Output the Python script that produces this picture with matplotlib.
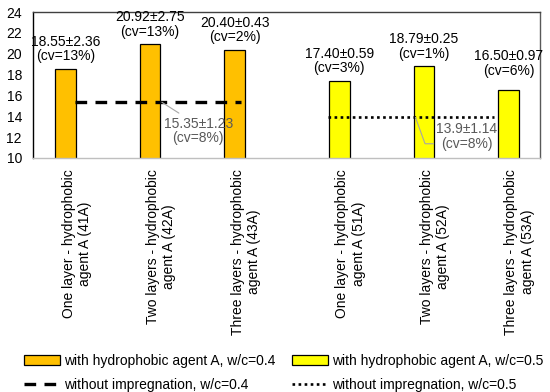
import matplotlib
matplotlib.use('Agg')
import matplotlib.pyplot as plt
import matplotlib.transforms as mtransforms
import numpy as np

plt.rcParams['font.family'] = ['Liberation Sans', 'DejaVu Sans']

categories = ['One layer - hydrophobic\nagent A (41A)',
              'Two layers - hydrophobic\nagent A (42A)',
              'Three layers - hydrophobic\nagent A (43A)',
              'One layer - hydrophobic\nagent A (51A)',
              'Two layers - hydrophobic\nagent A (52A)',
              'Three layers - hydrophobic\nagent A (53A)']
values_04 = [18.55, 20.92, 20.40]
values_05 = [17.40, 18.79, 16.50]
labels_04 = ['18.55±2.36\n(cv=13%)', '20.92±2.75\n(cv=13%)', '20.40±0.43\n(cv=2%)']
labels_05 = ['17.40±0.59\n(cv=3%)', '18.79±0.25\n(cv=1%)', '16.50±0.97\n(cv=6%)']
ref_04 = 15.35
ref_05 = 13.9
ref_label_04 = '15.35±1.23\n(cv=8%)'
ref_label_05 = '13.9±1.14\n(cv=8%)'

fig = plt.figure(figsize=(5.5, 3.92), dpi=100)
ax = fig.add_axes([0.06, 0.597, 0.922, 0.372])

# two groups of three, with a small extra gap between groups
x = np.arange(len(categories)) + np.array([0, 0, 0, 0.24, 0.24, 0.24])
w = 0.24
b1 = ax.bar(x[:3], values_04, w, color='#FFC000', edgecolor='black', linewidth=0.9,
            label='with hydrophobic agent A, w/c=0.4', zorder=2)
b2 = ax.bar(x[3:], values_05, w, color='#FFFF00', edgecolor='black', linewidth=0.9,
            label='with hydrophobic agent A, w/c=0.5', zorder=2)

l1, = ax.plot([x[0] + 0.11, x[2] + 0.08], [ref_04, ref_04], color='black', lw=2.4,
              dashes=(3.5, 2.5), label='without impregnation, w/c=0.4', zorder=3)
l2, = ax.plot([x[3] - 0.13, x[5] - 0.17], [ref_05, ref_05], color='black', lw=1.9,
              dashes=(1, 1.3), label='without impregnation, w/c=0.5', zorder=3)

fs = 10
for xi, v, t in zip(x[:3], values_04, labels_04):
    ax.annotate(t, (xi, v), xytext=(0, 4), textcoords='offset points',
                ha='center', va='bottom', fontsize=fs, linespacing=1.05)
for xi, v, t in zip(x[3:], values_05, labels_05):
    off = 9 if v < 17 else 4
    ax.annotate(t, (xi, v), xytext=(0, off), textcoords='offset points',
                ha='center', va='bottom', fontsize=fs, linespacing=1.05)

ax.annotate(ref_label_04, xy=(x[1] + 0.14, ref_04), xytext=(x[1] + 0.57, 12.6),
            ha='center', va='center', fontsize=fs, color='#595959', linespacing=1.05,
            arrowprops=dict(arrowstyle='-', color='#a6a6a6', lw=0.8, shrinkA=1, shrinkB=0,
                            relpos=(0.3, 1.0)))
ax.annotate(ref_label_05, xy=(x[4] - 0.1, ref_05), xytext=(x[4] + 0.51, 12.05),
            ha='center', va='center', fontsize=fs, color='#595959', linespacing=1.05,
            arrowprops=dict(arrowstyle='-', color='#a6a6a6', lw=0.8, shrinkA=0, shrinkB=0,
                            relpos=(0, 0.25),
                            connectionstyle='angle,angleA=0,angleB=110,rad=0'))

ax.set_xlim(-0.385, 5.615)
ax.set_ylim(10, 24)
ax.set_yticks(np.arange(10, 25, 2))
ax.set_xticks(x)
ax.set_xticklabels(categories, rotation=90, fontsize=fs)
ax.tick_params(axis='both', length=0, labelsize=fs)
ax.tick_params(axis='y', pad=8)
ax.tick_params(axis='x', pad=8)
# excel puts the rotated labels a little right of the bar centre
shift = mtransforms.ScaledTranslation(8 / 72, 0, fig.dpi_scale_trans)
for lab in ax.get_xticklabels():
    lab.set_transform(lab.get_transform() + shift)
ax.spines['left'].set_color('black')
ax.spines['top'].set_color('#404040')
ax.spines['right'].set_color('#595959')
ax.spines['bottom'].set_color('#bfbfbf')
for s in ax.spines.values():
    s.set_linewidth(1.0)

fig.legend(handles=[b1, l1, b2, l2], loc='center', bbox_to_anchor=(0.516, 0.049),
           ncol=2, frameon=False, fontsize=fs, handlelength=2.6, columnspacing=1.2,
           handletextpad=0.3, labelspacing=0.75)

fig.savefig('out.png', dpi=100)
